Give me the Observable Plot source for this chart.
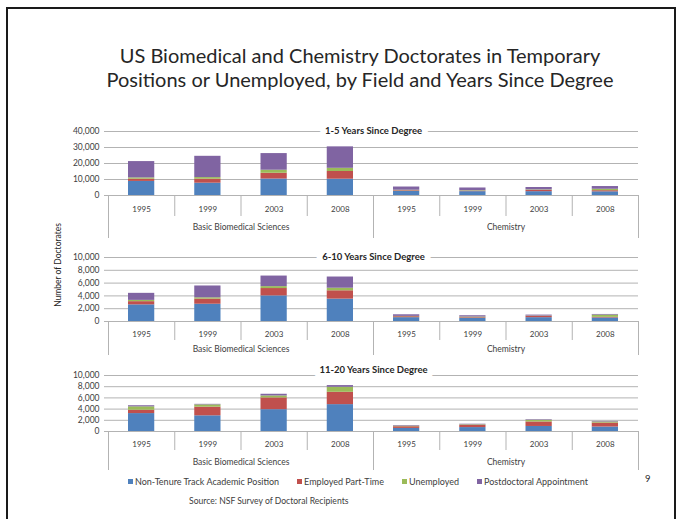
<!DOCTYPE html>
<html><head><meta charset="utf-8">
<script src="https://cdn.jsdelivr.net/npm/d3@7"></script>
<script src="https://cdn.jsdelivr.net/npm/@observablehq/plot@0.6"></script>
<style>
body{margin:0;background:#fff;}
#page{position:relative;width:683px;height:519px;overflow:hidden;font-family:Lato,"Open Sans",sans-serif;color:#404040;}
#border{position:absolute;left:6px;top:7px;width:670px;height:530px;border:2px solid #1a1a1a;box-sizing:border-box;}
#title{position:absolute;left:60px;width:600px;top:43px;text-align:center;font-size:20px;line-height:24px;color:#262626;white-space:nowrap;}
.panel{position:absolute;left:0;}
#ytitle{position:absolute;left:58px;top:265px;transform:translate(-50%,-50%) rotate(-90deg);font-size:8.5px;white-space:nowrap;color:#262626;}
#legend{position:absolute;top:476px;left:128px;font-size:9px;white-space:nowrap;display:flex;}
#legend span.item{display:flex;align-items:center;margin-right:18px;}
#legend span.sw{display:inline-block;width:5px;height:5px;margin-right:2px;}
#source{position:absolute;top:496px;left:189px;font-size:8.6px;white-space:nowrap;}
#pagenum{position:absolute;top:473px;left:645px;font-size:9.5px;color:#262626;}
</style></head><body>
<div id="page">
<div id="border"></div>
<div id="title">US Biomedical and Chemistry Doctorates in Temporary<br>Positions or Unemployed, by Field and Years Since Degree</div>
<div id="ytitle">Number of Doctorates</div>
<div id="legend"></div>
<div id="source">Source: NSF Survey of Doctoral Recipients</div>
<div id="pagenum">9</div>
</div>
<script>
// ---- data ----
const groups = ["Basic Biomedical Sciences", "Chemistry"];
const years = ["1995", "1999", "2003", "2008"];
const seriesNames = ["Non-Tenure Track Academic Position", "Employed Part-Time", "Unemployed", "Postdoctoral Appointment"];
const seriesColors = ["#4F81BD", "#C0504D", "#9BBB59", "#8064A2"];
const panelTitles = ["1-5 Years Since Degree", "6-10 Years Since Degree", "11-20 Years Since Degree"];

// values: Biomedical 1995,1999,2003,2008 then Chemistry 1995,1999,2003,2008
const y1to5NonTenure  = [8800, 7700, 10300, 10200, 2600, 2400, 2400, 2300];
const y1to5PartTime   = [1400, 2500, 3600, 4800, 400, 300, 800, 700];
const y1to5Unemployed = [800, 1000, 1900, 2000, 300, 300, 300, 900];
const y1to5Postdoc    = [10200, 13300, 10400, 13400, 2000, 1700, 1500, 1700];

const y6to10NonTenure  = [2600, 2700, 4000, 3500, 600, 500, 600, 550];
const y6to10PartTime   = [500, 800, 1150, 1300, 150, 100, 200, 100];
const y6to10Unemployed = [200, 200, 300, 400, 50, 100, 50, 350];
const y6to10Postdoc    = [1100, 1850, 1650, 1750, 250, 200, 150, 100];

const y11to20NonTenure  = [3200, 2800, 3900, 4800, 550, 700, 900, 800];
const y11to20PartTime   = [600, 1550, 2100, 2200, 300, 400, 800, 700];
const y11to20Unemployed = [600, 400, 350, 900, 100, 100, 300, 200];
const y11to20Postdoc    = [200, 100, 300, 300, 100, 100, 100, 100];

const ticks1to5 = [0, 10000, 20000, 30000, 40000];
const ticks6to10 = [0, 2000, 4000, 6000, 8000, 10000];
const ticks11to20 = [0, 2000, 4000, 6000, 8000, 10000];

// ---- layout ----
const panels = [
  {title: panelTitles[0], ticks: ticks1to5, series: [y1to5NonTenure, y1to5PartTime, y1to5Unemployed, y1to5Postdoc],
   top: 120, mt: 11, plotH: 64, mb: 45, shortD: 21, longD: 43, yearDy: 14, groupDy: 32, titleDy: -1},
  {title: panelTitles[1], ticks: ticks6to10, series: [y6to10NonTenure, y6to10PartTime, y6to10Unemployed, y6to10Postdoc],
   top: 245, mt: 12, plotH: 64, mb: 36, shortD: 19, longD: 34, yearDy: 12.5, groupDy: 27.5, titleDy: -1},
  {title: panelTitles[2], ticks: ticks11to20, series: [y11to20NonTenure, y11to20PartTime, y11to20Unemployed, y11to20Postdoc],
   top: 362, mt: 13, plotH: 56, mb: 42, shortD: 19, longD: 39, yearDy: 13, groupDy: 31, titleDy: -6}
];

const cats = groups.flatMap((g, gi) => years.map((y, yi) => ({group: g, year: y, i: gi * years.length + yi})));
const nCats = cats.length;
const boundaries = d3.range(nCats + 1);
const groupBoundaries = boundaries.filter(b => b % years.length === 0);
const innerBoundaries = boundaries.filter(b => b % years.length !== 0);
const groupRows = groups.map((g, gi) => ({group: g, mid: gi * years.length + years.length / 2}));

const page = document.getElementById("page");
const fmt = d3.format(",");
const grid = "#b3b3b3";
const fontFamily = "Lato, 'Open Sans', sans-serif";

panels.forEach(p => {
  const rows = [];
  p.series.forEach((vals, s) => vals.forEach((v, i) => rows.push({i, series: seriesNames[s], value: v})));
  const maxV = p.ticks[p.ticks.length - 1];
  const chart = Plot.plot({
    width: 683,
    height: p.mt + p.plotH + p.mb,
    marginLeft: 108, marginRight: 45, marginTop: p.mt, marginBottom: p.mb,
    x: {domain: [0, nCats], axis: null},
    y: {domain: [0, maxV], axis: null},
    color: {domain: seriesNames, range: seriesColors},
    style: {fontFamily, background: "transparent", color: "#404040", overflow: "visible"},
    marks: [
      Plot.ruleY(p.ticks, {stroke: grid, strokeWidth: 1}),
      Plot.ruleY(p.ticks, {x1: 0, x2: 0, insetLeft: -4, stroke: grid}),
      Plot.text(p.ticks, {y: d => d, frameAnchor: "left", textAnchor: "end", dx: -9, text: d => fmt(d), fontSize: 8.5, fill: "#404040"}),
      Plot.rectY(rows, Plot.stackY({x1: "i", x2: d => d.i + 1, y: "value", fill: "series", order: seriesNames, insetLeft: 20, insetRight: 20})),
      Plot.ruleX(innerBoundaries, {x: d => d, y1: 0, y2: 0, insetBottom: -p.shortD, stroke: grid}),
      Plot.ruleX(groupBoundaries, {x: d => d, y1: 0, y2: 0, insetBottom: -p.longD, stroke: grid}),
      Plot.text(cats, {x: d => d.i + 0.5, y: () => 0, dy: p.yearDy, text: "year", fontSize: 8, fill: "#404040"}),
      Plot.text(groupRows, {x: "mid", y: () => 0, dy: p.groupDy, text: "group", fontSize: 8.5, fill: "#404040"}),
      Plot.text([p.title], {x: () => nCats / 2, y: () => maxV, dy: p.titleDy, text: d => d, fontWeight: "bold", fontSize: 9.5, fill: "#262626",
        stroke: "white", strokeWidth: 12, strokeLinejoin: "round", paintOrder: "stroke"})
    ]
  });
  chart.classList.add("panel");
  chart.style.top = p.top + "px";
  page.appendChild(chart);
});

const legend = document.getElementById("legend");
seriesNames.forEach((name, k) => {
  const item = document.createElement("span");
  item.className = "item";
  const sw = document.createElement("span");
  sw.className = "sw";
  sw.style.background = seriesColors[k];
  item.appendChild(sw);
  item.appendChild(document.createTextNode(name));
  legend.appendChild(item);
});
</script>
</body></html>
